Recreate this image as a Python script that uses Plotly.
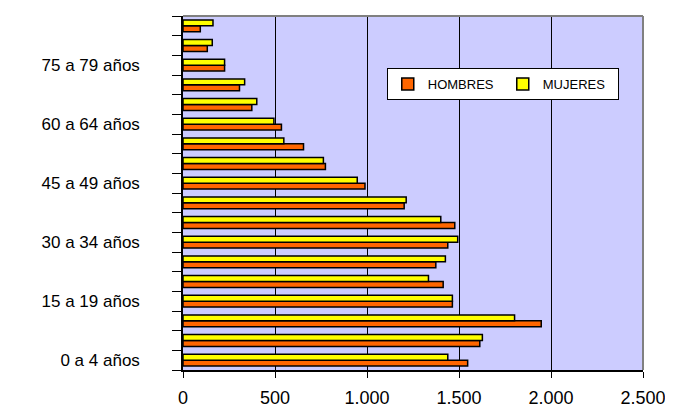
import plotly.graph_objects as go

categories = ["0 a 4 años", "5 a 9 años", "10 a 14 años", "15 a 19 años", "20 a 24 años",
              "25 a 29 años", "30 a 34 años", "35 a 39 años", "40 a 44 años", "45 a 49 años",
              "50 a 54 años", "55 a 59 años", "60 a 64 años", "65 a 69 años", "70 a 74 años",
              "75 a 79 años", "80 a 84 años", "85 y más años"]
hombres = [1547, 1613, 1947, 1464, 1414, 1374, 1439, 1477, 1202, 989,
           774, 655, 535, 374, 307, 226, 132, 94]
mujeres = [1439, 1627, 1802, 1464, 1334, 1426, 1493, 1401, 1213, 947,
           763, 548, 494, 401, 335, 226, 159, 163]
x_tickvals = [0, 500, 1000, 1500, 2000, 2500]
x_ticktext = ["0", "500", "1.000", "1.500", "2.000", "2.500"]
shown_labels = ["0 a 4 años", "15 a 19 años", "30 a 34 años", "45 a 49 años",
                "60 a 64 años", "75 a 79 años"]

ypos = list(range(len(categories)))
label_pos = [categories.index(c) for c in shown_labels]

fig = go.Figure()
fig.add_trace(go.Bar(y=ypos, x=hombres, orientation="h", name="HOMBRES",
                     marker=dict(color="#FF6600", line=dict(color="black", width=1.5))))
fig.add_trace(go.Bar(y=ypos, x=mujeres, orientation="h", name="MUJERES",
                     marker=dict(color="#FFFF00", line=dict(color="black", width=1.5))))

fig.update_layout(
    width=665, height=400,
    margin=dict(l=175, r=30, t=8, b=38, autoexpand=False),
    paper_bgcolor="white", plot_bgcolor="#CCCCFF",
    barmode="group", bargap=0.4, bargroupgap=0,
    font=dict(family="Liberation Sans, Arial, sans-serif", color="black"),
    showlegend=True,
    legend=dict(orientation="h", x=0.443, y=0.853, xanchor="left", yanchor="top",
                bgcolor="white", bordercolor="black", borderwidth=1,
                font=dict(size=13), traceorder="normal", entrywidth=70,
                itemclick=False),
    xaxis=dict(range=[0, 2500], tickvals=x_tickvals, ticktext=x_ticktext,
               showgrid=True, gridcolor="black", gridwidth=1, automargin=False,
               showline=True, linecolor="black", linewidth=1.5,
               ticks="outside", ticklen=6, tickcolor="black",
               tickfont=dict(size=18), ticklabelstandoff=5, zeroline=False),
    yaxis=dict(range=[-0.5, len(categories) - 0.5], tickvals=label_pos,
               ticktext=shown_labels, ticks="", showgrid=False, automargin=False,
               showline=True, linecolor="black", linewidth=1.5,
               tickfont=dict(size=17), ticklabelstandoff=38, zeroline=False,
               minor=dict(tick0=0.5, dtick=1, ticks="outside", ticklen=9,
                          tickcolor="black", tickwidth=1, showgrid=False)),
    shapes=[
        dict(type="line", xref="paper", yref="paper", x0=0, x1=1, y0=1, y1=1,
             line=dict(color="#808080", width=2), layer="above"),
        dict(type="line", xref="paper", yref="paper", x0=1, x1=1, y0=0, y1=1,
             line=dict(color="#808080", width=2), layer="above"),
    ],
)

fig.write_html("out.html")
